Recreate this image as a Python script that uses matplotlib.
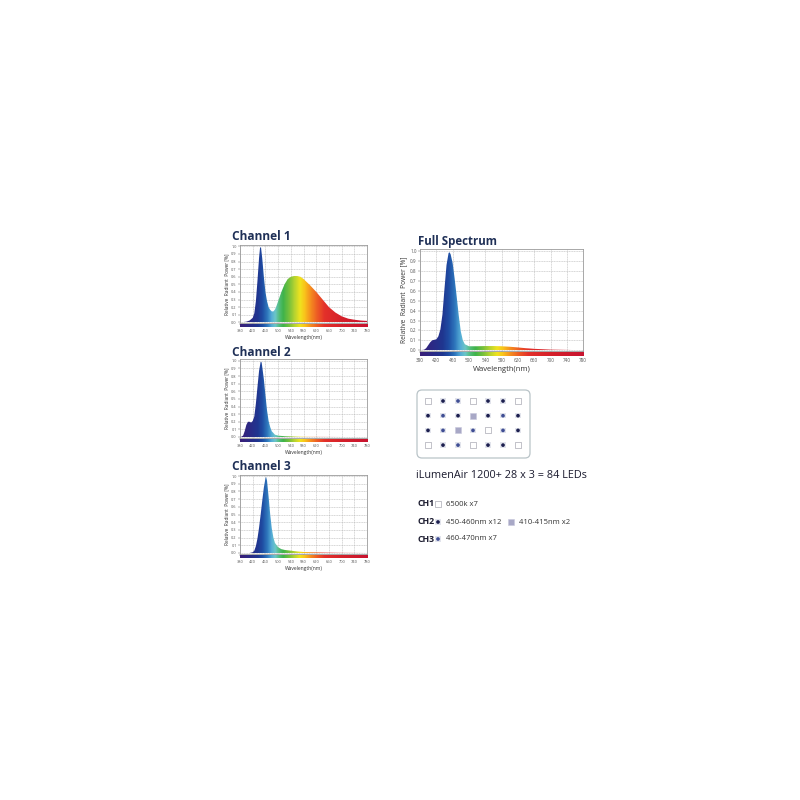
import numpy as np
import matplotlib
matplotlib.use('Agg')
import matplotlib.pyplot as plt
from matplotlib.colors import LinearSegmentedColormap
from matplotlib.patches import Polygon, FancyBboxPatch

plt.rcParams['font.family'] = ['Open Sans', 'DejaVu Sans']

# spectra (wavelength nm, relative power)
ch1_wl = [380, 400, 410, 420, 425, 430, 435, 440, 443, 446, 450, 455, 460, 465, 470, 475, 480, 485, 490,
          495, 500, 510, 520, 530, 540, 550, 560, 570, 580, 590, 600, 620, 640, 660, 680, 700, 720, 740, 760, 780]
ch1_val = [0.0, 0.01, 0.025, 0.06, 0.12, 0.28, 0.55, 0.85, 0.98, 0.99, 0.84, 0.6, 0.4, 0.28, 0.2, 0.165, 0.145, 0.145, 0.17,
           0.22, 0.28, 0.4, 0.5, 0.57, 0.6, 0.61, 0.61, 0.6, 0.57, 0.53, 0.49, 0.4, 0.3, 0.2, 0.13, 0.08, 0.05, 0.035, 0.025, 0.02]

ch2_wl = [380, 385, 390, 395, 400, 405, 410, 415, 420, 425, 430, 435, 440, 445, 448, 450, 455, 460, 465, 470,
          475, 480, 490, 500, 520, 540, 560, 580, 600, 650, 700, 780]
ch2_val = [0.0, 0.005, 0.02, 0.08, 0.16, 0.2, 0.2, 0.19, 0.21, 0.27, 0.44, 0.66, 0.87, 0.99, 0.98, 0.92, 0.76, 0.55, 0.35, 0.21,
           0.13, 0.075, 0.03, 0.018, 0.01, 0.008, 0.005, 0.003, 0.002, 0.001, 0.0, 0.0]

ch3_wl = [380, 410, 420, 425, 430, 435, 440, 445, 450, 455, 460, 462, 465, 470, 475, 480, 485, 490, 500, 510,
          520, 540, 560, 580, 600, 650, 700, 780]
ch3_val = [0.0, 0.0, 0.01, 0.03, 0.09, 0.19, 0.33, 0.5, 0.68, 0.85, 0.97, 0.99, 0.94, 0.73, 0.5, 0.32, 0.2, 0.13, 0.075, 0.05,
           0.04, 0.03, 0.02, 0.013, 0.01, 0.005, 0.002, 0.0]

full_wl = [380, 390, 395, 400, 405, 410, 415, 420, 425, 430, 435, 440, 445, 450, 452, 455, 460, 465, 470, 475,
           480, 485, 490, 500, 520, 540, 560, 580, 600, 620, 640, 660, 680, 700, 740, 780]
full_val = [0.0, 0.005, 0.02, 0.05, 0.08, 0.1, 0.105, 0.11, 0.14, 0.21, 0.36, 0.62, 0.86, 0.98, 0.99, 0.97, 0.88, 0.72, 0.54, 0.35,
            0.19, 0.1, 0.06, 0.04, 0.04, 0.042, 0.042, 0.04, 0.035, 0.028, 0.02, 0.014, 0.01, 0.006, 0.003, 0.0]

x_ticks = [380, 420, 460, 500, 540, 580, 620, 660, 700, 740, 780]
y_ticks = [0.0, 0.1, 0.2, 0.3, 0.4, 0.5, 0.6, 0.7, 0.8, 0.9, 1.0]

# LED layout: w = CH1 6500k, d = CH2 450-460nm, l = CH2 410-415nm, b = CH3 460-470nm
led_rows = [
    ['w', 'd', 'b', 'w', 'd', 'd', 'w'],
    ['d', 'b', 'd', 'l', 'd', 'b', 'd'],
    ['d', 'b', 'l', 'b', 'w', 'b', 'd'],
    ['w', 'd', 'b', 'w', 'd', 'd', 'w'],
]

# spectral colours by wavelength
spec_stops = [380, 410, 435, 450, 465, 478, 490, 502, 515, 535, 552, 568, 582, 600, 620, 645, 700, 780]
spec_cols = ['#3a1f78', '#2b2a86', '#1f3690', '#1f4ea4', '#2f78bd', '#55acd6', '#6cc6c8', '#52bd7a', '#3fb34a',
             '#7cc23a', '#bcd52f', '#f0e31e', '#f9c41b', '#f5901f', '#ee5f24', '#e3302a', '#d5202a', '#c81430']
spec_cmap = LinearSegmentedColormap.from_list(
    'spec', [((s - 380) / 400, c) for s, c in zip(spec_stops, spec_cols)])

fig = plt.figure(figsize=(8, 8), dpi=100)
fig.patch.set_facecolor('white')


def spectrum(rect, wl, val, big=False):
    ax = fig.add_axes(rect)
    grad = np.linspace(380, 780, 400).reshape(1, -1)
    im = ax.imshow(grad, extent=[380, 780, 0, 1.02], aspect='auto', cmap=spec_cmap,
                   vmin=380, vmax=780, origin='lower', zorder=2)
    shape = Polygon(np.column_stack([[wl[0]] + wl + [wl[-1]], [0] + val + [0]]),
                    closed=True, facecolor='none', edgecolor='none')
    ax.add_patch(shape)
    im.set_clip_path(shape)
    # colour strip under the axis
    strip = ax.imshow(grad, extent=[380, 780, -0.06, -0.025], aspect='auto', cmap=spec_cmap,
                      vmin=380, vmax=780, origin='lower', zorder=3)
    strip.set_clip_on(False)
    ax.set_xlim(380, 780)
    ax.set_ylim(-0.01, 1.02)
    ax.set_xticks(x_ticks)
    ax.set_yticks(y_ticks)
    ax.set_yticklabels([f'{v:.1f}' for v in y_ticks])
    ax.set_axisbelow(True)
    ax.grid(True, color='#b8b8b8', lw=0.4, ls=(0, (2, 1)))
    for s in ax.spines.values():
        s.set_color('#9a9a9a')
        s.set_linewidth(0.6)
    fs = 3.3 if big else 2.8
    ax.tick_params(labelsize=fs, length=1.2, width=0.3, pad=1.2, colors='#555555')
    ax.tick_params(axis='x', pad=3.8 if big else 3.2)
    ax.set_xlabel('Wavelength(nm)', fontsize=5.5 if big else 3.6, color='#333333', labelpad=2 if big else 1.5)
    ax.set_ylabel('Relative  Radiant  Power [%]', fontsize=4.8 if big else 3.4, color='#333333',
                  labelpad=2 if big else 1.5)
    return ax


spectrum([0.300, 0.596, 0.159, 0.098], ch1_wl, ch1_val)
spectrum([0.300, 0.4528, 0.159, 0.098], ch2_wl, ch2_val)
spectrum([0.300, 0.3078, 0.159, 0.099], ch3_wl, ch3_val)
spectrum([0.525, 0.561, 0.204, 0.1275], full_wl, full_val, big=True)

# overlay in pixel coordinates for titles, LED grid and legend
lay = fig.add_axes([0, 0, 1, 1])
lay.set_xlim(0, 800)
lay.set_ylim(800, 0)
lay.axis('off')

navy = '#1f3057'
for t, y in [('Channel 1', 236), ('Channel 2', 353), ('Channel 3', 466)]:
    lay.text(232, y, t, fontsize=8.6, fontweight='bold', color=navy, va='center', ha='left')
lay.text(418, 241, 'Full Spectrum', fontsize=8.3, fontweight='bold', color=navy, va='center', ha='left')

lay.add_patch(FancyBboxPatch((417, 390), 113, 68, boxstyle='round,pad=0,rounding_size=5',
                             facecolor='white', edgecolor='#b9c4c8', lw=0.9))


def led(x, y, kind):
    if kind == 'w':
        lay.scatter([x], [y], s=16, marker='s', facecolor='white', edgecolor='#a9aab4', lw=0.5, zorder=3)
    elif kind == 'l':
        lay.scatter([x], [y], s=16, marker='s', facecolor='#a8a8c6', edgecolor='#c8c8dc', lw=0.4, zorder=3)
    else:
        lay.scatter([x], [y], s=16, marker='s', facecolor='#e2e4ec', edgecolor='none', zorder=3)
        lay.scatter([x], [y], s=7, marker='o', facecolor='#1c1f4f' if kind == 'd' else '#3f4e94',
                    edgecolor='none', zorder=4)


for r, row in enumerate(led_rows):
    for c, kind in enumerate(row):
        led(428 + 15 * c, 401 + 14.7 * r, kind)

lay.text(416, 476, 'iLumenAir 1200+ 28 x 3 = 84 LEDs', fontsize=7.8, color='#1b1b2f', va='center', ha='left')

legend_rows = [
    ('CH1', 504, [('w', '6500k x7')]),
    ('CH2', 522, [('d', '450-460nm x12'), ('l', '410-415nm x2')]),
    ('CH3', 539, [('b', '460-470nm x7')]),
]
for name, y, items in legend_rows:
    lay.text(417, y, name, fontsize=6.3, fontweight='bold', color='#1b1b2f', va='center', ha='left')
    x = 438
    for kind, label in items:
        led(x, y, kind)
        lay.text(x + 8, y, label, fontsize=5.5, color='#333333', va='center', ha='left')
        x = 511

fig.savefig('out.png', dpi=100, facecolor='white')
